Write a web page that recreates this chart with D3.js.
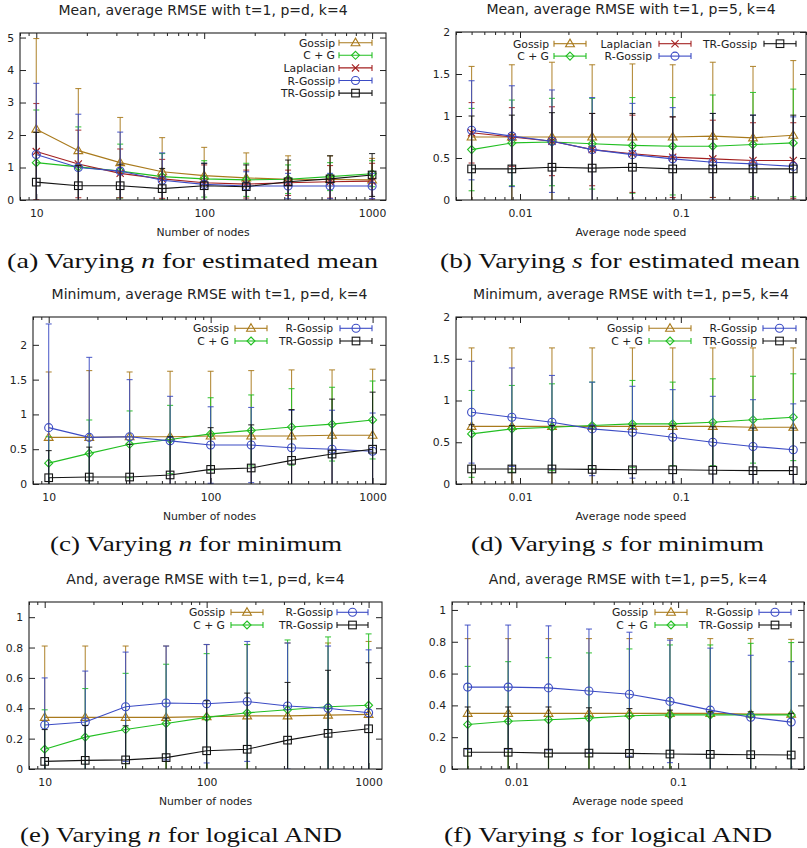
<!DOCTYPE html>
<html>
<head>
<meta charset="utf-8">
<script src="https://cdn.jsdelivr.net/npm/d3@7.9.0/dist/d3.min.js"></script>
<style>
  body { margin: 0; background: #fff; }
  svg text { font-family: "DejaVu Sans", sans-serif; fill: #222; }
  svg text.cap { font-family: "Liberation Serif", serif; fill: #111; }
</style>
</head>
<body>
<svg id="fig" width="807" height="848"></svg>
<script>
// x values shared by the panels
const nNodes = [10, 17.8, 31.6, 56.2, 100, 178, 316, 562, 1000];
const nodeSpeed = [0.005, 0.0089, 0.0158, 0.0281, 0.05, 0.089, 0.158, 0.281, 0.5];
const nTicks = [10, 100, 1000];
const speedTicks = [0.01, 0.1];

// (a) mean, varying n
const aYTicks = [0, 1, 2, 3, 4, 5];
const aGossip = [2.18, 1.52, 1.15, 0.87, 0.75, 0.68, 0.64, 0.63, 0.62];
const aGossipErr = [2.79, 1.91, 1.39, 1.05, 0.87, 0.77, 0.72, 0.73, 0.66];
const aCG = [1.15, 1.02, 0.89, 0.72, 0.65, 0.62, 0.64, 0.72, 0.81];
const aCGErr = [1.62, 1.23, 0.83, 0.71, 0.56, 0.51, 0.44, 0.43, 0.40];
const aLap = [1.49, 1.11, 0.82, 0.65, 0.53, 0.49, 0.53, 0.56, 0.58];
const aLapErr = [1.48, 1.04, 0.75, 0.60, 0.55, 0.43, 0.39, 0.50, 0.55];
const aRG = [1.40, 1.00, 0.89, 0.61, 0.48, 0.43, 0.43, 0.43, 0.43];
const aRGErr = [2.19, 1.64, 1.20, 0.84, 0.65, 0.44, 0.39, 0.39, 0.39];
const aTR = [0.55, 0.44, 0.44, 0.35, 0.44, 0.41, 0.56, 0.65, 0.77];
const aTRErr = [1.53, 0.62, 0.66, 0.62, 0.69, 0.67, 0.67, 0.71, 0.66];

// (b) mean, varying s
const bYTicks = [0, 0.5, 1, 1.5, 2];
const bGossip = [0.75, 0.75, 0.75, 0.75, 0.75, 0.75, 0.76, 0.74, 0.77];
const bGossipErr = [0.84, 0.86, 0.89, 0.86, 0.87, 0.86, 0.88, 0.85, 0.89];
const bCG = [0.60, 0.68, 0.69, 0.67, 0.65, 0.64, 0.64, 0.66, 0.68];
const bCGErr = [0.49, 0.51, 0.52, 0.54, 0.57, 0.58, 0.61, 0.62, 0.64];
const bLap = [0.80, 0.75, 0.70, 0.60, 0.55, 0.51, 0.49, 0.47, 0.47];
const bLapErr = [0.36, 0.35, 0.41, 0.43, 0.46, 0.48, 0.46, 0.45, 0.45];
const bRG = [0.83, 0.76, 0.70, 0.60, 0.54, 0.49, 0.45, 0.43, 0.40];
const bRGErr = [0.59, 0.60, 0.61, 0.62, 0.61, 0.61, 0.58, 0.58, 0.59];
const bTR = [0.37, 0.37, 0.39, 0.38, 0.39, 0.37, 0.37, 0.37, 0.37];
const bTRErr = [0.63, 0.64, 0.65, 0.65, 0.64, 0.62, 0.66, 0.64, 0.64];

// (c) minimum, varying n
const cYTicks = [0, 0.5, 1, 1.5, 2];
const cGossip = [0.67, 0.67, 0.68, 0.68, 0.69, 0.69, 0.69, 0.70, 0.70];
const cGossipErr = [0.94, 0.96, 0.93, 0.94, 0.93, 0.94, 0.95, 0.94, 0.95];
const cCG = [0.30, 0.44, 0.57, 0.64, 0.72, 0.77, 0.82, 0.86, 0.92];
const cCGErr = [0.38, 0.48, 0.48, 0.49, 0.52, 0.51, 0.55, 0.53, 0.56];
const cRG = [0.81, 0.67, 0.68, 0.62, 0.56, 0.56, 0.52, 0.50, 0.47];
const cRGErr = [1.49, 1.15, 0.82, 0.64, 0.55, 0.54, 0.54, 0.56, 0.55];
const cTR = [0.09, 0.10, 0.10, 0.13, 0.21, 0.23, 0.34, 0.43, 0.50];
const cTRErr = [0.39, 0.43, 0.47, 0.55, 0.60, 0.62, 0.73, 0.79, 0.82];

// (d) minimum, varying s
const dYTicks = [0, 0.5, 1, 1.5, 2];
const dGossip = [0.69, 0.69, 0.69, 0.69, 0.69, 0.69, 0.69, 0.68, 0.68];
const dGossipErr = [0.94, 0.94, 0.94, 0.94, 0.94, 0.94, 0.94, 0.95, 0.95];
const dCG = [0.60, 0.66, 0.68, 0.70, 0.72, 0.72, 0.74, 0.77, 0.80];
const dCGErr = [0.52, 0.52, 0.52, 0.52, 0.52, 0.50, 0.52, 0.52, 0.52];
const dRG = [0.86, 0.80, 0.74, 0.66, 0.62, 0.56, 0.50, 0.45, 0.41];
const dRGErr = [0.61, 0.59, 0.56, 0.56, 0.55, 0.57, 0.55, 0.56, 0.55];
const dTR = [0.18, 0.18, 0.18, 0.175, 0.17, 0.17, 0.165, 0.16, 0.16];
const dTRErr = [0.53, 0.52, 0.52, 0.52, 0.53, 0.53, 0.52, 0.51, 0.51];

// (e) logical AND, varying n
const eYTicks = [0, 0.2, 0.4, 0.6, 0.8, 1];
const eGossip = [0.34, 0.34, 0.34, 0.34, 0.345, 0.35, 0.35, 0.355, 0.36];
const eGossipErr = [0.47, 0.47, 0.47, 0.47, 0.475, 0.47, 0.48, 0.475, 0.48];
const eCG = [0.13, 0.21, 0.26, 0.30, 0.34, 0.37, 0.39, 0.41, 0.42];
const eCGErr = [0.26, 0.32, 0.37, 0.39, 0.42, 0.45, 0.46, 0.46, 0.47];
const eRG = [0.29, 0.31, 0.41, 0.435, 0.43, 0.445, 0.415, 0.40, 0.37];
const eRGErr = [0.31, 0.335, 0.36, 0.375, 0.39, 0.395, 0.415, 0.41, 0.415];
const eTR = [0.05, 0.057, 0.06, 0.075, 0.12, 0.13, 0.19, 0.235, 0.265];
const eTRErr = [0.21, 0.23, 0.225, 0.26, 0.33, 0.37, 0.38, 0.415, 0.435];

// (f) logical AND, varying s
const fYTicks = [0, 0.2, 0.4, 0.6, 0.8, 1];
const fGossip = [0.35, 0.35, 0.35, 0.35, 0.35, 0.35, 0.35, 0.345, 0.345];
const fGossipErr = [0.47, 0.47, 0.47, 0.47, 0.47, 0.47, 0.47, 0.475, 0.47];
const fCG = [0.28, 0.30, 0.31, 0.32, 0.335, 0.34, 0.34, 0.34, 0.34];
const fCGErr = [0.365, 0.375, 0.39, 0.41, 0.42, 0.44, 0.44, 0.45, 0.455];
const fRG = [0.515, 0.515, 0.51, 0.49, 0.47, 0.425, 0.37, 0.325, 0.295];
const fRGErr = [0.39, 0.39, 0.39, 0.39, 0.39, 0.385, 0.39, 0.39, 0.38];
const fTR = [0.105, 0.105, 0.10, 0.10, 0.098, 0.094, 0.092, 0.09, 0.088];
const fTRErr = [0.285, 0.285, 0.29, 0.285, 0.282, 0.276, 0.268, 0.27, 0.262];

// look of each method
const styles = {
  "Gossip":    { color: "#a97a1c", mark: "tri" },
  "C + G":     { color: "#22bf22", mark: "dia" },
  "Laplacian": { color: "#a32020", mark: "x" },
  "R-Gossip":  { color: "#3b4bc4", mark: "circ" },
  "TR-Gossip": { color: "#141414", mark: "sq" }
};

const nDomain = [8, 1210];
const sDomain = [0.004, 0.6];

const panels = [
  { box: { l: 20, r: 386, t: 33, b: 200 }, xs: nNodes, xDomain: nDomain, xTicks: nTicks, yMax: 5.14, yTicks: aYTicks,
    title: "Mean, average RMSE with t=1, p=d, k=4", xlabel: "Number of nodes",
    caption: ["(a) Varying ", "n", " for estimated mean"], cap: { x: 7, w: 371, y: 268 },
    series: [["Gossip", aGossip, aGossipErr], ["C + G", aCG, aCGErr], ["Laplacian", aLap, aLapErr], ["R-Gossip", aRG, aRGErr], ["TR-Gossip", aTR, aTRErr]],
    legend: { y0: 42.7, dy: 12.6, cols: [{ right: 335, s1: 339, s2: 372, names: ["Gossip", "C + G", "Laplacian", "R-Gossip", "TR-Gossip"] }] } },
  { box: { l: 456, r: 806, t: 32, b: 200 }, xs: nodeSpeed, xDomain: sDomain, xTicks: speedTicks, yMax: 2, yTicks: bYTicks,
    title: "Mean, average RMSE with t=1, p=5, k=4", xlabel: "Average node speed",
    caption: ["(b) Varying ", "s", " for estimated mean"], cap: { x: 440, w: 360, y: 268 },
    series: [["Gossip", bGossip, bGossipErr], ["C + G", bCG, bCGErr], ["Laplacian", bLap, bLapErr], ["R-Gossip", bRG, bRGErr], ["TR-Gossip", bTR, bTRErr]],
    legend: { y0: 43.7, dy: 12.4, cols: [
      { right: 549, s1: 554, s2: 586, names: ["Gossip", "C + G"] },
      { right: 652, s1: 659, s2: 691, names: ["Laplacian", "R-Gossip"] },
      { right: 757, s1: 764, s2: 796, names: ["TR-Gossip"] }] } },
  { box: { l: 33, r: 386, t: 317, b: 484 }, xs: nNodes, xDomain: nDomain, xTicks: nTicks, yMax: 2.4, yTicks: cYTicks,
    title: "Minimum, average RMSE with t=1, p=d, k=4", xlabel: "Number of nodes",
    caption: ["(c) Varying ", "n", " for minimum"], cap: { x: 50, w: 292, y: 551 },
    series: [["Gossip", cGossip, cGossipErr], ["C + G", cCG, cCGErr], ["R-Gossip", cRG, cRGErr], ["TR-Gossip", cTR, cTRErr]],
    legend: { y0: 328.3, dy: 12.7, cols: [
      { right: 229, s1: 235, s2: 267, names: ["Gossip", "C + G"] },
      { right: 333, s1: 340, s2: 372, names: ["R-Gossip", "TR-Gossip"] }] } },
  { box: { l: 456, r: 806, t: 317, b: 484 }, xs: nodeSpeed, xDomain: sDomain, xTicks: speedTicks, yMax: 2, yTicks: dYTicks,
    title: "Minimum, average RMSE with t=1, p=5, k=4", xlabel: "Average node speed",
    caption: ["(d) Varying ", "s", " for minimum"], cap: { x: 471, w: 293, y: 551 },
    series: [["Gossip", dGossip, dGossipErr], ["C + G", dCG, dCGErr], ["R-Gossip", dRG, dRGErr], ["TR-Gossip", dTR, dTRErr]],
    legend: { y0: 328.3, dy: 12.7, cols: [
      { right: 643, s1: 649, s2: 691, names: ["Gossip", "C + G"] },
      { right: 757, s1: 763, s2: 796, names: ["R-Gossip", "TR-Gossip"] }] } },
  { box: { l: 29, r: 382, t: 602, b: 769 }, xs: nNodes, xDomain: nDomain, xTicks: nTicks, yMax: 1.1, yTicks: eYTicks,
    title: "And, average RMSE with t=1, p=d, k=4", xlabel: "Number of nodes",
    caption: ["(e) Varying ", "n", " for logical AND"], cap: { x: 20, w: 322, y: 842 },
    series: [["Gossip", eGossip, eGossipErr], ["C + G", eCG, eCGErr], ["R-Gossip", eRG, eRGErr], ["TR-Gossip", eTR, eTRErr]],
    legend: { y0: 612.3, dy: 12.7, cols: [
      { right: 225, s1: 231, s2: 263, names: ["Gossip", "C + G"] },
      { right: 333, s1: 337, s2: 368, names: ["R-Gossip", "TR-Gossip"] }] } },
  { box: { l: 452, r: 804, t: 602, b: 769 }, xs: nodeSpeed, xDomain: sDomain, xTicks: speedTicks, yMax: 1.05, yTicks: fYTicks,
    title: "And, average RMSE with t=1, p=5, k=4", xlabel: "Average node speed",
    caption: ["(f) Varying ", "s", " for logical AND"], cap: { x: 444, w: 328, y: 842 },
    series: [["Gossip", fGossip, fGossipErr], ["C + G", fCG, fCGErr], ["R-Gossip", fRG, fRGErr], ["TR-Gossip", fTR, fTRErr]],
    legend: { y0: 612.3, dy: 12.7, cols: [
      { right: 648, s1: 655, s2: 687, names: ["Gossip", "C + G"] },
      { right: 753, s1: 759, s2: 791, names: ["R-Gossip", "TR-Gossip"] }] } }
];

const svg = d3.select("#fig");

function drawMarker(g, type, x, y, color) {
  let m;
  if (type === "tri") {
    m = g.append("path").attr("d", `M${x},${y - 4.6}L${x + 4.4},${y + 3}L${x - 4.4},${y + 3}Z`);
  } else if (type === "dia") {
    m = g.append("path").attr("d", `M${x},${y - 4}L${x + 4},${y}L${x},${y + 4}L${x - 4},${y}Z`);
  } else if (type === "x") {
    m = g.append("path").attr("d", `M${x - 3.6},${y - 3.6}L${x + 3.6},${y + 3.6}M${x - 3.6},${y + 3.6}L${x + 3.6},${y - 3.6}`);
  } else if (type === "circ") {
    m = g.append("circle").attr("cx", x).attr("cy", y).attr("r", 4);
  } else {
    m = g.append("rect").attr("x", x - 3.8).attr("y", y - 3.8).attr("width", 7.6).attr("height", 7.6);
  }
  m.attr("fill", "none").attr("stroke", color).attr("stroke-width", 1.1);
}

panels.forEach((p, pi) => {
  const { l, r, t, b } = p.box;
  const x = d3.scaleLog().domain(p.xDomain).range([l, r]);
  const y = d3.scaleLinear().domain([0, p.yMax]).range([b, t]);
  const g = svg.append("g");

  const clipId = "clip" + pi;
  svg.append("clipPath").attr("id", clipId)
    .append("rect").attr("x", l).attr("y", t).attr("width", r - l).attr("height", b - t);

  // axes: ticks point inwards and are mirrored, as gnuplot does
  const minor = x.ticks().filter(v => !p.xTicks.some(m => Math.abs(m - v) / m < 1e-9));
  const fmt = d3.format("~g");
  const styleAxis = sel => {
    sel.select(".domain").remove();
    sel.selectAll("line").attr("stroke", "#222");
    sel.selectAll("text").attr("font-size", 10.8).attr("font-family", "DejaVu Sans").attr("fill", "#222");
  };
  g.append("g").attr("transform", `translate(0,${b})`)
    .call(d3.axisBottom(x).tickValues(p.xTicks).tickSize(-6).tickPadding(9).tickFormat(fmt)).call(styleAxis);
  g.append("g").attr("transform", `translate(0,${b})`)
    .call(d3.axisBottom(x).tickValues(minor).tickSize(-3).tickFormat("")).call(styleAxis);
  g.append("g").attr("transform", `translate(0,${t})`)
    .call(d3.axisTop(x).tickValues(p.xTicks).tickSize(-6).tickFormat("")).call(styleAxis);
  g.append("g").attr("transform", `translate(0,${t})`)
    .call(d3.axisTop(x).tickValues(minor).tickSize(-3).tickFormat("")).call(styleAxis);
  g.append("g").attr("transform", `translate(${l},0)`)
    .call(d3.axisLeft(y).tickValues(p.yTicks).tickSize(-6).tickPadding(6).tickFormat(fmt)).call(styleAxis);
  g.append("g").attr("transform", `translate(${r},0)`)
    .call(d3.axisRight(y).tickValues(p.yTicks).tickSize(-6).tickFormat("")).call(styleAxis);

  // data
  const plot = g.append("g").attr("clip-path", `url(#${clipId})`);
  p.series.forEach(([name, mean, err]) => {
    const st = styles[name];
    const sg = plot.append("g");
    p.xs.forEach((xv, i) => {
      const px = x(xv);
      const hi = y(mean[i] + err[i]);
      const lo = y(mean[i] - err[i]);
      sg.append("line").attr("x1", px).attr("x2", px).attr("y1", lo).attr("y2", hi)
        .attr("stroke", st.color).attr("stroke-width", 1.1).attr("opacity", 0.85);
      [hi, lo].forEach(cy => {
        sg.append("line").attr("x1", px - 3).attr("x2", px + 3).attr("y1", cy).attr("y2", cy)
          .attr("stroke", st.color).attr("stroke-width", 1.1).attr("opacity", 0.85);
      });
    });
    const line = d3.line().x((d, i) => x(p.xs[i])).y(d => y(d));
    sg.append("path").datum(mean).attr("d", line)
      .attr("fill", "none").attr("stroke", st.color).attr("stroke-width", 1.1);
    mean.forEach((v, i) => drawMarker(sg, st.mark, x(p.xs[i]), y(v), st.color));
  });

  // frame
  g.append("rect").attr("x", l).attr("y", t).attr("width", r - l).attr("height", b - t)
    .attr("fill", "none").attr("stroke", "#222").attr("stroke-width", 1.1);

  // legend
  p.legend.cols.forEach(col => {
    col.names.forEach((name, k) => {
      const st = styles[name];
      const ly = p.legend.y0 + k * p.legend.dy;
      g.append("text").attr("x", col.right).attr("y", ly + 4).attr("text-anchor", "end")
        .attr("font-size", 10.8).text(name);
      g.append("line").attr("x1", col.s1).attr("x2", col.s2).attr("y1", ly).attr("y2", ly)
        .attr("stroke", st.color).attr("stroke-width", 1.1);
      [col.s1, col.s2].forEach(cx => {
        g.append("line").attr("x1", cx).attr("x2", cx).attr("y1", ly - 3).attr("y2", ly + 3)
          .attr("stroke", st.color).attr("stroke-width", 1.1);
      });
      drawMarker(g, st.mark, (col.s1 + col.s2) / 2, ly, st.color);
    });
  });

  // titles and labels
  const cx = (l + r) / 2;
  g.append("text").attr("x", cx).attr("y", t - 18).attr("text-anchor", "middle")
    .attr("font-size", 14).text(p.title);
  g.append("text").attr("x", cx).attr("y", b + 36).attr("text-anchor", "middle")
    .attr("font-size", 10.8).text(p.xlabel);

  const cap = svg.append("text").attr("class", "cap")
    .attr("x", p.cap.x).attr("y", p.cap.y).attr("font-size", 22)
    .attr("textLength", p.cap.w).attr("lengthAdjust", "spacingAndGlyphs");
  cap.append("tspan").text(p.caption[0]);
  cap.append("tspan").attr("font-style", "italic").text(p.caption[1]);
  cap.append("tspan").text(p.caption[2]);
});
</script>
</body>
</html>
